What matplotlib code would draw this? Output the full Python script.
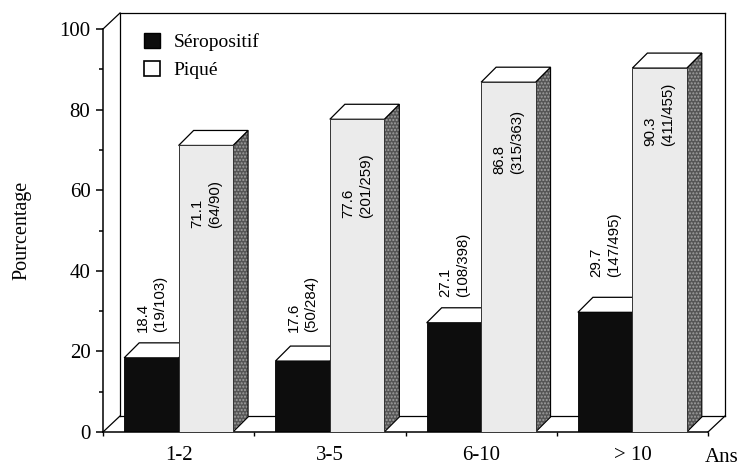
import numpy as np
import matplotlib.pyplot as plt
from matplotlib.patches import Polygon, Patch

categories = ['1-2', '3-5', '6-10', '> 10']
seropositif = [18.4, 17.6, 27.1, 29.7]
pique = [71.1, 77.6, 86.8, 90.3]
sero_counts = ['19/103', '50/284', '108/398', '147/495']
pique_counts = ['64/90', '201/259', '315/363', '411/455']

# label placement (gap above black bars, drop below top of light bars)
sero_gap = [6.4, 7.2, 6.4, 8.8]
pique_drop = [8.6, 8.4, 6.9, 3.7]

serif = 'Liberation Serif'
sans = 'Liberation Sans'

fig = plt.figure(figsize=(7.42, 4.69), dpi=100)
ax = fig.add_axes([103 / 742, 37 / 469, 605 / 742, 403 / 469])
ax.set_xlim(0, len(categories))
ax.set_ylim(0, 100)

# pixel -> data conversion for the fake 3D depth
bb = ax.get_window_extent()
sx = len(categories) / bb.width
sy = 100 / bb.height
bdx, bdy = 15 * sx, 15 * sy      # bar depth
wdx, wdy = 17 * sx, 16 * sy      # wall depth

# back wall / floor outline
x1, y1 = ax.get_xlim()[1], ax.get_ylim()[1]
wall = dict(color='black', lw=0.9, clip_on=False, zorder=1)
ax.plot([wdx, x1 + wdx], [y1 + wdy, y1 + wdy], **wall)
ax.plot([wdx, wdx], [wdy, y1 + wdy], **wall)
ax.plot([x1 + wdx, x1 + wdx], [wdy, y1 + wdy], **wall)
ax.plot([wdx, x1 + wdx], [wdy, wdy], **wall)
ax.plot([0, wdx], [y1, y1 + wdy], **wall)
ax.plot([0, wdx], [0, wdy], **wall)
ax.plot([x1, x1 + wdx], [0, wdy], **wall)

x = np.arange(len(categories))
bw = 0.36
black = ax.bar(x + 0.14, seropositif, width=bw, align='edge',
               color='#0d0d0d', edgecolor='black', lw=0.6, zorder=2)
light = ax.bar(x + 0.14 + bw, pique, width=bw, align='edge',
               color='#ebebeb', edgecolor='#333333', lw=0.7, zorder=4)


def top_face(r):
    x0, w, h = r.get_x(), r.get_width(), r.get_height()
    return [(x0, h), (x0 + w, h), (x0 + w + bdx, h + bdy), (x0 + bdx, h + bdy)]


def side_face(r):
    x0, w, h = r.get_x(), r.get_width(), r.get_height()
    return [(x0 + w, 0), (x0 + w + bdx, bdy), (x0 + w + bdx, h + bdy), (x0 + w, h)]


for r in black:
    ax.add_patch(Polygon(top_face(r), closed=True, fc='white', ec='black', lw=0.9, zorder=2))

for r in light:
    ax.add_patch(Polygon(side_face(r), closed=True, fc='#555555', ec='none', zorder=3))
    ax.add_patch(Polygon(side_face(r), closed=True, fc='none', ec='#a0a0a0', lw=0,
                         hatch='.....', zorder=3))
    ax.add_patch(Polygon(side_face(r), closed=True, fc='none', ec='black', lw=0.8, zorder=3))
    ax.add_patch(Polygon(top_face(r), closed=True, fc='white', ec='black', lw=0.9, zorder=3))

for i, r in enumerate(black):
    ax.text(r.get_x() + r.get_width() / 2, seropositif[i] + sero_gap[i],
            f'{seropositif[i]}\n({sero_counts[i]})', rotation=90, ha='center',
            va='bottom', multialignment='left', fontsize=10.8, family=sans,
            linespacing=1.35, zorder=6)

for i, r in enumerate(light):
    ax.text(r.get_x() + r.get_width() / 2, pique[i] - pique_drop[i],
            f'{pique[i]}\n({pique_counts[i]})', rotation=90, ha='center',
            va='top', multialignment='left', fontsize=10.8, family=sans,
            linespacing=1.35, zorder=6)

# axes
for s in ['top', 'right']:
    ax.spines[s].set_visible(False)
for s in ['left', 'bottom']:
    ax.spines[s].set_linewidth(1.1)

ax.set_yticks(np.arange(0, 101, 20))
ax.set_yticks(np.arange(10, 100, 20), minor=True)
ax.tick_params(axis='y', which='major', direction='out', length=5, width=1.1, pad=4,
               labelsize=15)
ax.tick_params(axis='y', which='minor', direction='out', length=3, width=1.1)
for t in ax.get_yticklabels():
    t.set_family(serif)

ax.set_xticks(np.arange(0, len(categories) + 1))
ax.set_xticklabels([])
ax.set_xticks(x + 0.5, minor=True)
ax.set_xticklabels(categories, minor=True, family=serif, fontsize=15)
ax.tick_params(axis='x', which='major', direction='out', length=3, width=1.0)
ax.tick_params(axis='x', which='minor', length=0, pad=10)

ax.text(1.023, -0.064, 'Ans', transform=ax.transAxes, ha='center', va='center',
        family=serif, fontsize=15)

ax.set_ylabel('Pourcentage', family=serif, fontsize=14.5, labelpad=20)

handles = [Patch(facecolor='#0d0d0d', edgecolor='black'),
           Patch(facecolor='white', edgecolor='black', lw=1.2)]
ax.legend(handles, ['Séropositif', 'Piqué'], loc='upper left',
          bbox_to_anchor=(0.068, 0.99), frameon=False, borderpad=0,
          prop={'family': serif, 'size': 14}, handlelength=0.8, handleheight=0.8,
          handletextpad=0.7, labelspacing=0.5, borderaxespad=0)

fig.savefig('out.png', dpi=100)
